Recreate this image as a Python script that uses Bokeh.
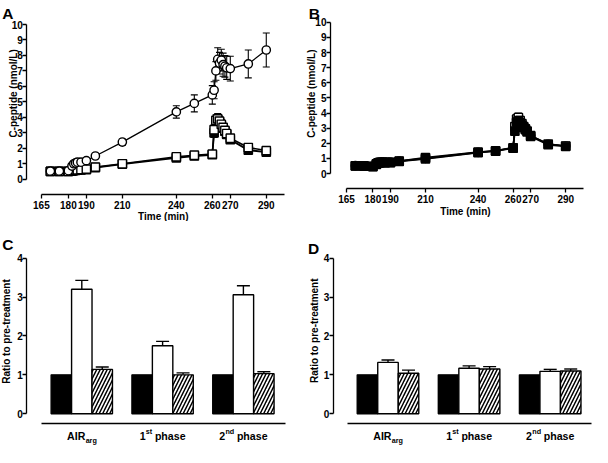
import numpy as np
from bokeh.plotting import figure
from bokeh.models import Range1d, FixedTicker, Whisker, TeeHead, ColumnDataSource, Label
from bokeh.layouts import column, row
from bokeh.embed import file_html
from bokeh.resources import INLINE

# ---------------- data ----------------
TIME = [170, 175, 180, 182, 183, 184, 185, 187, 190, 195, 210, 240, 250,
        260, 261, 262, 263, 264, 265, 266, 267, 268, 270, 280, 290]
X_TICKS = [165, 180, 190, 210, 240, 260, 270, 290]
Y_TICKS_TOP = [0, 1, 2, 3, 4, 5, 6, 7, 8, 9, 10]
Y_TICKS_BOT = [0, 1, 2, 3, 4]

# Panel A
A_PRE = [0.50, 0.50, 0.50, 0.52, 0.55, 0.57, 0.58, 0.60, 0.62, 0.75, 0.97, 1.38, 1.50,
         1.58, 3.00, 3.70, 3.85, 3.70, 3.50, 3.30, 3.10, 2.90, 2.55, 1.88, 1.75]
A_PRE_ERR = [0.05, 0.05, 0.05, 0.05, 0.05, 0.05, 0.05, 0.05, 0.05, 0.06, 0.08, 0.10, 0.10,
             0.12, 0.30, 0.35, 0.35, 0.30, 0.30, 0.25, 0.25, 0.22, 0.20, 0.15, 0.15]
A_TREAT = [0.52, 0.52, 0.55, 0.85, 1.00, 1.05, 1.10, 1.10, 1.20, 1.50, 2.40, 4.35, 4.90,
           5.45, 5.75, 7.00, 7.75, 7.50, 7.70, 7.40, 7.30, 7.20, 7.15, 7.45, 8.35]
A_TREAT_ERR = [0.05, 0.05, 0.05, 0.10, 0.12, 0.12, 0.12, 0.12, 0.12, 0.10, 0.20, 0.40, 0.55,
               0.60, 0.55, 0.60, 0.75, 0.70, 0.70, 0.75, 0.70, 0.75, 0.80, 0.90, 1.10]
A_POST = [0.50, 0.50, 0.50, 0.55, 0.58, 0.60, 0.60, 0.62, 0.65, 0.78, 1.00, 1.45, 1.55,
          1.62, 3.20, 3.80, 3.90, 3.75, 3.55, 3.35, 3.15, 2.95, 2.65, 2.05, 1.85]
A_POST_ERR = [0.05, 0.05, 0.05, 0.05, 0.05, 0.05, 0.05, 0.05, 0.05, 0.06, 0.08, 0.10, 0.10,
              0.12, 0.30, 0.35, 0.35, 0.30, 0.30, 0.25, 0.25, 0.22, 0.20, 0.15, 0.15]

# Panel B
B_PRE = [0.50, 0.48, 0.45, 0.60, 0.68, 0.72, 0.72, 0.72, 0.72, 0.80, 0.97, 1.38, 1.48,
         1.68, 2.80, 3.40, 3.50, 3.35, 3.20, 3.05, 2.90, 2.75, 2.45, 1.90, 1.80]
B_PRE_ERR = [0.05, 0.05, 0.05, 0.06, 0.06, 0.06, 0.06, 0.06, 0.06, 0.06, 0.08, 0.10, 0.10,
             0.12, 0.25, 0.30, 0.30, 0.28, 0.25, 0.22, 0.20, 0.18, 0.15, 0.12, 0.12]
B_TREAT = [0.52, 0.50, 0.48, 0.62, 0.70, 0.74, 0.75, 0.75, 0.75, 0.82, 1.00, 1.40, 1.50,
           1.72, 3.00, 3.55, 3.60, 3.45, 3.30, 3.15, 3.00, 2.85, 2.50, 1.95, 1.82]
B_TREAT_ERR = [0.05, 0.05, 0.05, 0.06, 0.06, 0.06, 0.06, 0.06, 0.06, 0.06, 0.08, 0.10, 0.10,
               0.12, 0.25, 0.30, 0.30, 0.28, 0.25, 0.22, 0.20, 0.18, 0.15, 0.12, 0.12]
B_POST = [0.50, 0.50, 0.47, 0.63, 0.70, 0.73, 0.74, 0.74, 0.74, 0.82, 1.05, 1.42, 1.50,
          1.70, 3.10, 3.60, 3.70, 3.50, 3.30, 3.10, 2.95, 2.80, 2.50, 1.95, 1.82]
B_POST_ERR = [0.05, 0.05, 0.05, 0.06, 0.06, 0.06, 0.06, 0.06, 0.06, 0.06, 0.08, 0.10, 0.10,
              0.12, 0.25, 0.30, 0.30, 0.28, 0.25, 0.22, 0.20, 0.18, 0.15, 0.12, 0.12]

# Panels C and D (ratio to pre-treatment)
GROUPS = ["AIRarg", "1st phase", "2nd phase"]
CAT_MAIN = ["AIR", "1", "2"]
CAT_SCRIPT = ["arg", "st", "nd"]
CAT_SCRIPT_KIND = ["sub", "sup", "sup"]
CAT_TAIL = ["", "phase", "phase"]

C_PRE = [1.0, 1.0, 1.0]
C_TREAT = [3.20, 1.75, 3.06]
C_TREAT_ERR = [0.23, 0.11, 0.23]
C_POST = [1.14, 1.00, 1.03]
C_POST_ERR = [0.06, 0.05, 0.05]

D_PRE = [1.0, 1.0, 1.0]
D_TREAT = [1.32, 1.17, 1.09]
D_TREAT_ERR = [0.06, 0.06, 0.05]
D_POST = [1.04, 1.15, 1.10]
D_POST_ERR = [0.08, 0.06, 0.05]

# ---------------- styling helpers ----------------
FONT = "Liberation Sans"
AXW = 1.3

CHAR_W = {"A": .722, "I": .278, "R": .722, "a": .556, "r": .389, "g": .611,
          "1": .556, "2": .556, "s": .556, "t": .333, "n": .611, "d": .611,
          "p": .611, "h": .611, "e": .556, " ": .278}


def text_w(s, size):
    return sum(CHAR_W.get(c, .556) for c in s) * size


def span(W, px0, unit_px):
    """(start, end) offsets of a range whose origin sits at pixel px0, unit_px px per unit"""
    return (-px0 / unit_px, (W - px0) / unit_px)


def make_fig(W, H, xr, yr, x_fixed, y_fixed):
    p = figure(width=W, height=H, x_range=Range1d(*xr), y_range=Range1d(*yr),
               output_backend="svg", toolbar_location=None,
               min_border_left=0, min_border_right=0,
               min_border_top=0, min_border_bottom=0)
    p.outline_line_color = None
    p.xgrid.visible = False
    p.ygrid.visible = False
    p.background_fill_color = "white"
    p.border_fill_color = "white"
    for ax in (p.xaxis[0], p.yaxis[0]):
        ax.axis_line_width = AXW
        ax.axis_line_color = "black"
        ax.major_tick_line_width = AXW
        ax.major_tick_out = 4
        ax.major_tick_in = 0
        ax.minor_tick_line_color = None
        ax.major_label_text_font = FONT
        ax.major_label_text_font_style = "bold"
        ax.major_label_text_font_size = "10px"
        ax.major_label_text_color = "black"
    p.xaxis[0].major_label_standoff = 2
    p.yaxis[0].major_label_standoff = 0
    p.xaxis[0].fixed_location = x_fixed
    p.yaxis[0].fixed_location = y_fixed
    return p, (W, H)


def add_text(p, geom, fx, fy, text, size, angle=0.0, align="left", baseline="alphabetic"):
    W, H = geom
    p.add_layout(Label(x=fx, y=H - fy, x_units="screen", y_units="screen",
                       text=text, text_font=FONT, text_font_style="bold",
                       text_font_size=size, text_color="black", angle=angle,
                       text_align=align, text_baseline=baseline))


def series(p, t, y, e, marker, fill, lw):
    y = np.array(y, dtype=float)
    e = np.array(e, dtype=float)
    src = ColumnDataSource(dict(t=t, y=y, lo=y - e, hi=y + e))
    p.add_layout(Whisker(source=src, base="t", lower="lo", upper="hi",
                         line_width=1.1, line_color="black", level="underlay",
                         upper_head=TeeHead(size=7, line_width=1.1),
                         lower_head=TeeHead(size=7, line_width=1.1)))
    p.line("t", "y", source=src, line_width=lw, line_color="black")
    p.scatter("t", "y", source=src, marker=marker, size=8.3,
              fill_color=fill, line_color="black", line_width=1.4)


def time_panel(W, H, xr, yr, y_axis_at, pre, pre_e, treat, treat_e, post, post_e, filled_last):
    p, g = make_fig(W, H, xr, yr, -1.0, y_axis_at)
    p.xaxis[0].ticker = FixedTicker(ticks=X_TICKS)
    p.xaxis[0].bounds = (165, 300)
    p.yaxis[0].ticker = FixedTicker(ticks=Y_TICKS_TOP)
    p.yaxis[0].bounds = (0, 10)
    if filled_last:
        series(p, TIME, treat, treat_e, "circle", "white", 1.6)
        series(p, TIME, post, post_e, "square", "white", 1.6)
        series(p, TIME, pre, pre_e, "square", "black", 1.8)
    else:
        series(p, TIME, pre, pre_e, "square", "black", 1.8)
        series(p, TIME, post, post_e, "square", "white", 1.6)
        series(p, TIME, treat, treat_e, "circle", "white", 1.3)
    return p, g


def bar_panel(W, H, xr, yr, y_axis_at, x_bounds, pre, treat, treat_e, post, post_e):
    p, g = make_fig(W, H, xr, yr, -0.248, y_axis_at)
    p.yaxis[0].ticker = FixedTicker(ticks=Y_TICKS_BOT)
    p.yaxis[0].bounds = (0, 4)
    p.xaxis[0].ticker = FixedTicker(ticks=[])
    p.xaxis[0].bounds = x_bounds
    p.xaxis[0].major_tick_line_color = None
    xs = np.arange(1, len(GROUPS) + 1, dtype=float)
    bw = 0.253
    p.vbar(x=xs - bw, top=pre, width=bw, bottom=0, fill_color="black",
           line_color="black", line_width=1.4)
    p.vbar(x=xs, top=treat, width=bw, bottom=0, fill_color="white",
           line_color="black", line_width=1.4)
    p.vbar(x=xs + bw, top=post, width=bw, bottom=0, fill_color="white",
           line_color="black", line_width=1.4, hatch_pattern="/",
           hatch_color="black", hatch_scale=7, hatch_weight=1.5)
    for x, top, err in ((xs, treat, treat_e), (xs + bw, post, post_e)):
        top = np.array(top, dtype=float)
        src = ColumnDataSource(dict(x=x, lo=top, hi=top + np.array(err)))
        p.add_layout(Whisker(source=src, base="x", lower="lo", upper="hi",
                             line_width=1.4, line_color="black", lower_head=None,
                             upper_head=TeeHead(size=13, line_width=1.4)))
    # category labels with sub/superscripts
    W, H = g
    ms, ss = 10.6, 7.2
    gap = 0.278 * ms
    base_y = H - 214.5
    for i, xc in enumerate(xs):
        main, scr, tail = CAT_MAIN[i], CAT_SCRIPT[i], CAT_TAIL[i]
        wm, ws = text_w(main, ms), text_w(scr, ss)
        wt = (gap + text_w(tail, ms)) if tail else 0.0
        start = -(wm + ws + wt) / 2
        sy = base_y - 4.4 if CAT_SCRIPT_KIND[i] == "sub" else base_y + 4.6
        pieces = [(main, ms, start, base_y), (scr, ss, start + wm + 0.3, sy)]
        if tail:
            pieces.append((tail, ms, start + wm + ws + gap, base_y))
        for txt, sz, off, yy in pieces:
            p.add_layout(Label(x=xc, x_offset=off, y=yy, x_units="data", y_units="screen",
                               text=txt, text_font=FONT, text_font_style="bold",
                               text_font_size=f"{sz}px", text_color="black",
                               text_align="left", text_baseline="alphabetic"))
    return p, g


# ---------------- panels ----------------
# A: 165 min at x=40.9 px, 1.799 px/min ; value 0 at y=178.7 px, 15.47 px/unit
xa0, xa1 = span(292, 40.9, 1.799)
ya0, ya1 = span(221, 221 - 178.7, 15.47)
pA, gA = time_panel(292, 221, (165 + xa0, 165 + xa1), (ya0, ya1), 156.9,
                    A_PRE, A_PRE_ERR, A_TREAT, A_TREAT_ERR, A_POST, A_POST_ERR, False)
add_text(pA, gA, 1.7, 12.8, "A", "15.5px")
add_text(pA, gA, 12.8, 92.9, "C-peptide (nmol/L)", "10px", angle=np.pi / 2,
         align="center", baseline="middle")
add_text(pA, gA, 162.8, 215.6, "Time (min)", "10px", align="center", baseline="middle")

# B: 165 min at x=54.1 px, 1.753 px/min ; value 0 at y=173.0 px, 15.12 px/unit
xb0, xb1 = span(300, 54.1, 1.753)
yb0, yb1 = span(221, 221 - 173.0, 15.12)
pB, gB = time_panel(300, 221, (165 + xb0, 165 + xb1), (yb0, yb1), 155.8,
                    B_PRE, B_PRE_ERR, B_TREAT, B_TREAT_ERR, B_POST, B_POST_ERR, True)
add_text(pB, gB, 16.3, 12.8, "B", "15.5px")
add_text(pB, gB, 19.2, 93.2, "C-peptide (nmol/L)", "10px", angle=np.pi / 2,
         align="center", baseline="middle")
add_text(pB, gB, 172.9, 210.7, "Time (min)", "10px", align="center", baseline="middle")

# C: group 1 at x=81.3 px, 80.8 px/group ; value 0 at y=192.2 px, 38.87 px/unit
xc0, xc1 = span(292, 81.3, 80.8)
yc0, yc1 = span(225, 225 - 192.2, 38.87)
pC, gC = bar_panel(292, 225, (1 + xc0, 1 + xc1), (yc0, yc1), 0.319, (0.5, 3.524),
                   C_PRE, C_TREAT, C_TREAT_ERR, C_POST, C_POST_ERR)
add_text(pC, gC, 1.7, 22.5, "C", "15.5px")
add_text(pC, gC, 5.8, 110.0, "Ratio to pre-treatment", "10px", angle=np.pi / 2,
         align="center", baseline="middle")

# D: group 1 at x=95.5 px, 81.1 px/group ; same vertical scale
xd0, xd1 = span(300, 95.5, 81.1)
pD, gD = bar_panel(300, 225, (1 + xd0, 1 + xd1), (yc0, yc1), 0.327, (0.506, 3.51),
                   D_PRE, D_TREAT, D_TREAT_ERR, D_POST, D_POST_ERR)
add_text(pD, gD, 15.6, 27.3, "D", "15.5px")
add_text(pD, gD, 22.4, 109.2, "Ratio to pre-treatment", "10px", angle=np.pi / 2,
         align="center", baseline="middle")

layout = column(row(pA, pB), row(pC, pD))

with open("out.html", "w") as f:
    f.write(file_html(layout, INLINE))
